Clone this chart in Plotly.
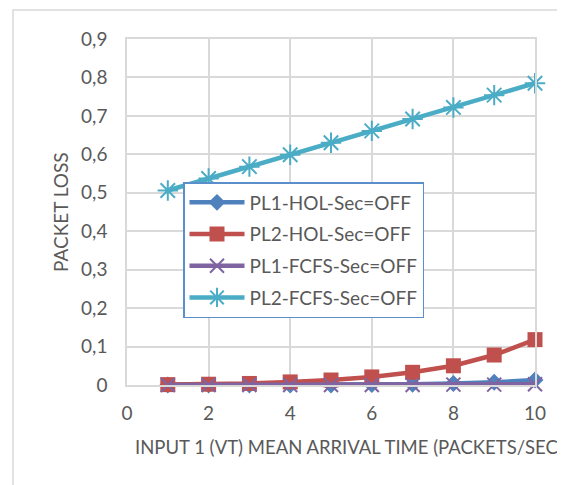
import plotly.graph_objects as go

x_values = [1, 2, 3, 4, 5, 6, 7, 8, 9, 10]
pl1_hol = [0.0, 0.0, 0.0, 0.0, 0.0, 0.001, 0.002, 0.004, 0.007, 0.013]
pl2_hol = [0.001, 0.002, 0.004, 0.008, 0.013, 0.021, 0.033, 0.05, 0.078, 0.118]
pl1_fcfs = [0.0, 0.0, 0.0, 0.0, 0.0, 0.0, 0.0, 0.001, 0.001, 0.002]
pl2_fcfs = [0.506, 0.537, 0.568, 0.599, 0.630, 0.661, 0.692, 0.722, 0.754, 0.785]

series_names = ["PL1-HOL-Sec=OFF", "PL2-HOL-Sec=OFF", "PL1-FCFS-Sec=OFF", "PL2-FCFS-Sec=OFF"]

y_tick_vals = [0, 0.1, 0.2, 0.3, 0.4, 0.5, 0.6, 0.7, 0.8, 0.9]
y_tick_text = ["0", "0,1", "0,2", "0,3", "0,4", "0,5", "0,6", "0,7", "0,8", "0,9"]
x_tick_vals = [0, 2, 4, 6, 8, 10]
x_tick_text = ["0", "2", "4", "6", "8", "10"]

x_title = "INPUT 1 (VT) MEAN ARRIVAL TIME (PACKETS/SEC)"
y_title = "PACKET LOSS"

FONT = "Lato"
FS = 19
TXT = "#595959"
GRID = "#d9d9d9"

# page has an 8px body margin; work in page pixels and convert
OFF = 8
W, H = 565 - OFF, 485 - OFF
PL, PR, PT, PB = 127, 535, 39, 385  # plot area in page pixels
L, T = PL - OFF, PT - OFF
R = W - (PR - OFF)
B = H - (PB - OFF)
pw, ph = W - L - R, H - T - B

def px_x(p):
    return (p - OFF - L) / pw

def px_y(p):
    return (H - B - (p - OFF)) / ph

fig = go.Figure()
styles = [
    dict(color="#4F81BD", symbol="diamond", size=13, mline=0),
    dict(color="#C0504D", symbol="square", size=15, mline=0),
    dict(color="#8064A2", symbol="x-thin-open", size=14, mline=2),
    dict(color="#4BACC6", symbol="asterisk-open", size=17, mline=2),
]
for i, (name, ys, st) in enumerate(zip(series_names, [pl1_hol, pl2_hol, pl1_fcfs, pl2_fcfs], styles)):
    fig.add_trace(go.Scatter(
        x=x_values, y=ys, name=name, mode="lines+markers", legendgroup=f"g{i}",
        line=dict(color=st["color"], width=4.5),
        marker=dict(symbol=st["symbol"], size=st["size"], color=st["color"],
                    line=dict(color=st["color"], width=st["mline"])),
        cliponaxis=False,
    ))

fig.update_layout(
    width=W, height=H,
    margin=dict(l=L, r=R, t=T, b=B),
    paper_bgcolor="white", plot_bgcolor="white",
    font=dict(family=FONT, size=FS, color=TXT),
    showlegend=True,
    legend=dict(
        x=px_x(183), y=px_y(182), xanchor="left", yanchor="top",
        bgcolor="white", bordercolor="#5B8FCB", borderwidth=1.5,
        font=dict(family=FONT, size=FS, color=TXT),
        tracegroupgap=4, itemwidth=55,
    ),
    xaxis=dict(
        range=[0, 10], tickvals=x_tick_vals, ticktext=x_tick_text,
        showgrid=True, gridcolor=GRID, gridwidth=1.5,
        zeroline=False, showline=True, linecolor=GRID, linewidth=1.5, mirror=True,
        ticks="outside", ticklen=10, tickcolor="rgba(0,0,0,0)",
        tickfont=dict(family=FONT, size=FS, color=TXT),
        fixedrange=True,
    ),
    yaxis=dict(
        range=[0, 0.9], tickvals=y_tick_vals, ticktext=y_tick_text,
        showgrid=True, gridcolor=GRID, gridwidth=1.5,
        zeroline=False, showline=True, linecolor=GRID, linewidth=1.5, mirror=True,
        ticks="outside", ticklen=14, tickcolor="rgba(0,0,0,0)",
        tickfont=dict(family=FONT, size=FS, color=TXT),
        fixedrange=True,
    ),
    annotations=[
        dict(text=x_title, xref="paper", yref="paper", x=px_x(133), y=px_y(447),
             xanchor="left", yanchor="middle", showarrow=False,
             font=dict(family=FONT, size=18.5, color=TXT)),
        dict(text=y_title, xref="paper", yref="paper", x=px_x(60), y=px_y(212),
             xanchor="center", yanchor="middle", showarrow=False, textangle=-90,
             font=dict(family=FONT, size=FS, color=TXT)),
    ],
    shapes=[
        dict(type="path", xref="paper", yref="paper",
             path=f"M {px_x(13)} {px_y(H + 40)} L {px_x(13)} {px_y(10)} L {px_x(W + 40)} {px_y(10)}",
             line=dict(color=GRID, width=1.5), layer="below"),
    ],
)

fig.write_html("out.html")
